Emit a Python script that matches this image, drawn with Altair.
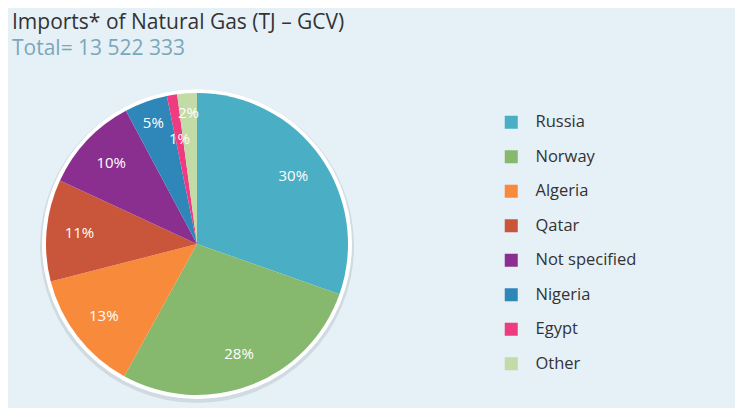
import altair as alt
import pandas as pd

countries = ["Russia", "Norway", "Algeria", "Qatar", "Not specified", "Nigeria", "Egypt", "Other"]
shares = [30.4, 27.6, 13.0, 10.9, 10.3, 4.6, 1.1, 2.1]
colors = ["#4aaec4", "#86b86e", "#f88a3c", "#c9553b", "#8a2f8f", "#2f86b9", "#ef3b7f", "#c3dba6"]

df = pd.DataFrame({"country": countries, "share": shares, "idx": list(range(len(countries)))})
TOTAL = float(sum(shares))

CX, CY = 189, 174
R = 151
font = "Open Sans"

pie = alt.Chart(df).mark_arc(radius=R).encode(
    theta=alt.Theta("share:Q", stack=True),
    order=alt.Order("idx:Q"),
    color=alt.Color(
        "country:N",
        scale=alt.Scale(domain=countries, range=colors),
        sort=countries,
        legend=alt.Legend(
            title=None, orient="none", legendX=495, legendY=44,
            symbolType="square", symbolSize=169, symbolStrokeWidth=0,
            labelFontSize=16.5, labelFont=font, labelColor="#333333",
            rowPadding=17.5, labelOffset=16, padding=0,
        ),
    ),
    x=alt.value(CX), y=alt.value(CY),
)

label_base = alt.Chart(df).transform_stack(
    stack="share", as_=["s0", "s1"], groupby=[], sort=[alt.SortField("idx", order="ascending")]
).transform_calculate(
    mid="(datum.s0 + datum.s1) / 2",
    pct="round(datum.share / %f * 100) + '%%'" % TOTAL,
)


def label_layer(flt, r):
    return label_base.transform_filter(flt).mark_text(
        fontSize=15, font=font, color="white", radius=r
    ).encode(
        theta=alt.Theta("mid:Q", stack=None, scale=alt.Scale(domain=[0, TOTAL], range=[0, 6.283185307])),
        text="pct:N",
        x=alt.value(CX), y=alt.value(CY),
    )


lab_main = label_layer("indexof(['Egypt','Nigeria','Other'], datum.country) < 0", 118)
lab_egypt = label_layer("datum.country == 'Egypt'", 106)
lab_nigeria = label_layer("datum.country == 'Nigeria'", 129)
lab_other = label_layer("datum.country == 'Other'", 131)

ring_data = alt.Data(values=[{"a": 1}])
shadow = alt.Chart(ring_data).mark_arc(
    radius=R + 6, theta=0, theta2=6.2832, color="#cfdae1"
).encode(x=alt.value(CX), y=alt.value(CY + 2))
ring = alt.Chart(ring_data).mark_arc(
    radius=R + 4, theta=0, theta2=6.2832, color="white"
).encode(x=alt.value(CX), y=alt.value(CY))

chart = alt.layer(shadow, ring, pie, lab_main, lab_egypt, lab_nigeria, lab_other).properties(
    width=727, height=338,
    padding={"left": 0, "top": 4, "right": 0, "bottom": 0},
    background="#e6f0f7",
    title=alt.TitleParams(
        "Imports* of Natural Gas (TJ \u2013 GCV)",
        subtitle="Total= 13 522 333",
        anchor="start", frame="group", dx=4,
        font=font, fontSize=21, fontWeight="normal", color="#333333",
        subtitleFont=font, subtitleFontSize=21, subtitleColor="#7aa8ba",
        subtitlePadding=5, offset=11,
    ),
).resolve_scale(theta="independent").configure_view(stroke=None)

chart.save("out.html", embed_options={"renderer": "svg", "actions": False})
